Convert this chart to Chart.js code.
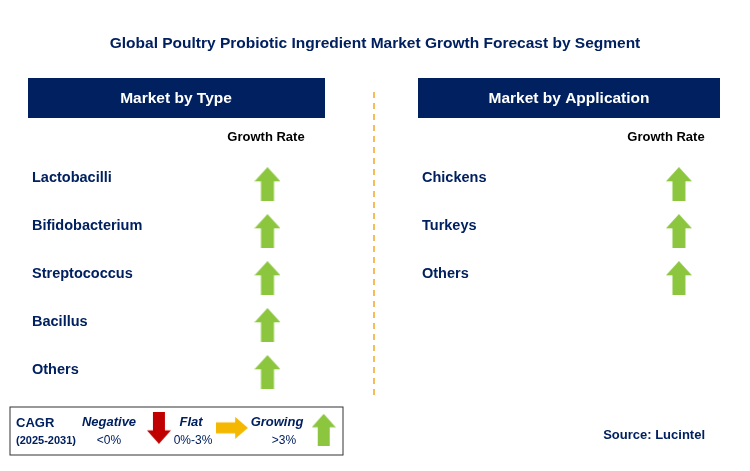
<!DOCTYPE html>
<html>
<head>
<meta charset="utf-8">
<script src="https://cdn.jsdelivr.net/npm/chart.js@4/dist/chart.umd.min.js"></script>
<style>
  body { margin: 0; background: #fff; }
  canvas { display: block; }
</style>
</head>
<body>
<canvas id="c" width="750" height="471"></canvas>
<script>
// segments and growth (1 = growing)
const typeLabels = ["Lactobacilli", "Bifidobacterium", "Streptococcus", "Bacillus", "Others"]
const typeGrowth = [1, 1, 1, 1, 1]
const appLabels = ["Chickens", "Turkeys", "Others"]
const appGrowth = [1, 1, 1]
const rowY = [180, 228, 276, 324, 372]

const NAVY = "#002060"
const GREEN = "#8cc63f"

// arrow icons
const makeArrow = (dir, color, w, h) => {
  const c = document.createElement("canvas")
  c.width = w
  c.height = h
  const g = c.getContext("2d")
  g.fillStyle = color
  g.beginPath()
  if (dir === "up") {
    g.moveTo(w / 2, 0); g.lineTo(w, h * 0.42); g.lineTo(w * 0.75, h * 0.42)
    g.lineTo(w * 0.75, h); g.lineTo(w * 0.25, h); g.lineTo(w * 0.25, h * 0.42)
    g.lineTo(0, h * 0.42)
  } else if (dir === "down") {
    g.moveTo(w / 2, h); g.lineTo(w, h * 0.58); g.lineTo(w * 0.75, h * 0.58)
    g.lineTo(w * 0.75, 0); g.lineTo(w * 0.25, 0); g.lineTo(w * 0.25, h * 0.58)
    g.lineTo(0, h * 0.58)
  } else {
    g.moveTo(w, h / 2); g.lineTo(w * 0.6, 0); g.lineTo(w * 0.6, h * 0.25)
    g.lineTo(0, h * 0.25); g.lineTo(0, h * 0.75); g.lineTo(w * 0.6, h * 0.75)
    g.lineTo(w * 0.6, h)
  }
  g.closePath()
  g.fill()
  return c
}
const upArrow = makeArrow("up", GREEN, 26, 34)
const legendUp = makeArrow("up", GREEN, 24, 32)
const legendDown = makeArrow("down", "#c00000", 24, 32)
const legendRight = makeArrow("right", "#f5b800", 32, 22)

const textPlugin = {
  id: "infographic",
  afterDraw: (chart) => {
    const ctx = chart.ctx
    ctx.save()
    ctx.textBaseline = "middle"
    ctx.fillStyle = NAVY
    ctx.font = "bold 15.5px Arial, 'Liberation Sans'"
    ctx.textAlign = "center"
    ctx.fillText("Global Poultry Probiotic Ingredient Market Growth Forecast by Segment", 375, 44)

    // header boxes
    ctx.fillRect(28, 78, 297, 40)
    ctx.fillRect(418, 78, 302, 40)
    ctx.fillStyle = "#fff"
    ctx.fillText("Market by Type", 176, 99)
    ctx.fillText("Market by Application", 569, 99)

    ctx.fillStyle = "#000"
    ctx.font = "bold 13px Arial, 'Liberation Sans'"
    ctx.fillText("Growth Rate", 266, 137)
    ctx.fillText("Growth Rate", 666, 137)

    ctx.fillStyle = NAVY
    ctx.font = "bold 14.5px Arial, 'Liberation Sans'"
    ctx.textAlign = "left"
    typeLabels.forEach((l, i) => ctx.fillText(l, 32, rowY[i] - 2))
    appLabels.forEach((l, i) => ctx.fillText(l, 422, rowY[i] - 2))

    // divider
    ctx.strokeStyle = "#f5a623"
    ctx.lineWidth = 1.5
    ctx.setLineDash([6, 5])
    ctx.beginPath()
    ctx.moveTo(374, 92)
    ctx.lineTo(374, 400)
    ctx.stroke()
    ctx.setLineDash([])

    // legend box
    ctx.strokeStyle = "#333"
    ctx.lineWidth = 1
    ctx.strokeRect(10, 407, 333, 48)
    ctx.fillStyle = NAVY
    ctx.font = "bold 13px Arial, 'Liberation Sans'"
    ctx.fillText("CAGR", 16, 423)
    ctx.font = "bold 11px Arial, 'Liberation Sans'"
    ctx.fillText("(2025-2031)", 16, 441)
    ctx.font = "italic bold 13px Arial, 'Liberation Sans'"
    ctx.textAlign = "center"
    ctx.fillText("Negative", 109, 422)
    ctx.fillText("Flat", 191, 422)
    ctx.fillText("Growing", 277, 422)
    ctx.font = "12px Arial, 'Liberation Sans'"
    ctx.fillText("<0%", 109, 441)
    ctx.fillText("0%-3%", 193, 441)
    ctx.fillText(">3%", 284, 441)

    ctx.font = "bold 13px Arial, 'Liberation Sans'"
    ctx.textAlign = "right"
    ctx.fillText("Source: Lucintel", 705, 435)
    ctx.restore()
  },
}

const pts = (growth, x) => growth.map((v, i) => ({ x: x, y: rowY[i] + 3 }))

new Chart(document.getElementById("c"), {
  type: "scatter",
  data: {
    datasets: [
      { data: pts(typeGrowth, 266), pointStyle: upArrow },
      { data: pts(appGrowth, 683), pointStyle: upArrow },
      { data: [{ x: 156, y: 432 }], pointStyle: legendDown },
      { data: [{ x: 230, y: 432 }], pointStyle: legendRight },
      { data: [{ x: 323, y: 434 }], pointStyle: legendUp },
    ],
  },
  options: {
    responsive: false,
    animation: false,
    layout: { padding: 0 },
    plugins: { legend: { display: false }, tooltip: { enabled: false } },
    scales: {
      x: { type: "linear", min: 0, max: 750, display: false },
      y: { type: "linear", min: 0, max: 471, reverse: true, display: false },
    },
  },
  plugins: [textPlugin],
})
</script>
</body>
</html>
